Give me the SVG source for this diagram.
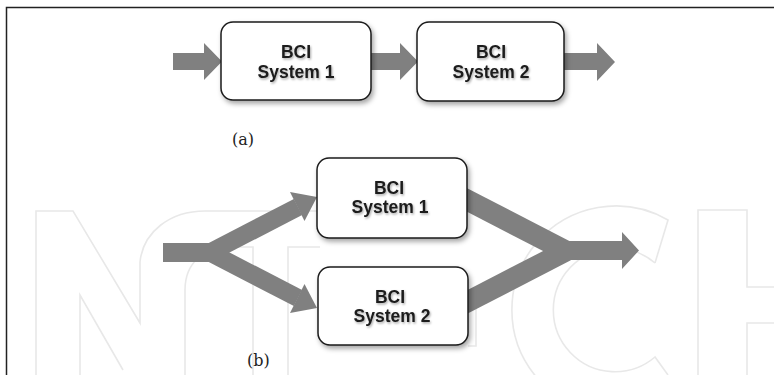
<svg xmlns="http://www.w3.org/2000/svg" width="774" height="375" viewBox="0 0 774 375">
<defs>
<filter id="sh" x="-10%" y="-10%" width="130%" height="140%">
<feDropShadow dx="2" dy="3" stdDeviation="2.5" flood-color="#000" flood-opacity="0.35"/>
</filter>
<filter id="tsh" x="-10%" y="-20%" width="130%" height="160%">
<feDropShadow dx="1" dy="1.5" stdDeviation="1" flood-color="#000" flood-opacity="0.35"/>
</filter>
</defs>
<style>
.box{fill:#fff;stroke:#1a1a1a;stroke-width:1.5;filter:url(#sh)}
.lbl{font-family:"Liberation Sans",Arial,sans-serif;font-weight:bold;font-size:17.5px;fill:#1a1a1a;text-anchor:middle;filter:url(#tsh)}
.cap{font-family:"DejaVu Serif","Liberation Serif",serif;font-size:16px;fill:#222}
.arr{fill:#808080}
.br{stroke:#808080;fill:none}
.frame{stroke:#222;stroke-width:1.5;fill:none}
.wm{stroke:#e8e8e8;stroke-width:1.6;fill:none}
</style>
<rect width="774" height="375" fill="#fff"/>
<g id="watermark">
<path class="wm" d="M36,375 V211 H73 L140,323 V262 C143,232 170,211 205,211 H330"/>
<path class="wm" d="M80,375 V295 L123,370"/>
<path class="wm" d="M185,375 V290 C185,262 205,247 230,247 H253 V375"/>
<path class="wm" d="M288,375 V247 H320"/>
<path class="wm" d="M468,298 H476 V346 H468"/>
<path class="wm" d="M655,263 L668,220 A104,104 0 1 0 668,400"/>
<path class="wm" d="M655,263 A61.7,61.7 0 1 0 655,357 L668,375"/>
<path class="wm" d="M698,375 V210 H747 V287 H774 M774,323 H747 V375"/>
</g>
<path class="frame" d="M6.5,375 V7.5 H774"/>
<g id="connectors">
<polygon class="arr" points="173,53 204,53 204,43 222,61.5 204,80 204,70 173,70"/>
<polygon class="arr" points="370,53 400,53 400,43 418,61.5 400,80 400,70 370,70"/>
<polygon class="arr" points="564,53 597,53 597,43 615,62 597,81 597,70 564,70"/>
<rect class="arr" x="163" y="243" width="55" height="19"/>
<line class="br" x1="210" y1="252.5" x2="298" y2="207" stroke-width="18"/>
<polygon class="arr" points="290,192 317,197 304.5,221"/>
<line class="br" x1="210" y1="252.5" x2="298" y2="298" stroke-width="18"/>
<polygon class="arr" points="290,313 317,308 304.5,284"/>
<line class="br" x1="440" y1="186" x2="566" y2="251" stroke-width="21"/>
<line class="br" x1="440" y1="316" x2="566" y2="251" stroke-width="21"/>
<polygon class="arr" points="560,241 622,241 622,232 639,250.5 622,269 622,260 560,260"/>
</g>
<g id="a-sys1">
<rect class="box" x="221" y="22" width="150" height="78" rx="12"/>
<text class="lbl" x="296" y="57.5">BCI</text>
<text class="lbl" x="296" y="78">System 1</text>
</g>
<g id="a-sys2">
<rect class="box" x="417" y="22" width="147" height="79" rx="12"/>
<text class="lbl" x="491" y="57.5">BCI</text>
<text class="lbl" x="491" y="78">System 2</text>
</g>
<g id="b-sys1">
<rect class="box" x="317" y="158" width="150" height="80" rx="12"/>
<text class="lbl" x="389" y="193.5">BCI</text>
<text class="lbl" x="390" y="213">System 1</text>
</g>
<g id="b-sys2">
<rect class="box" x="318" y="267" width="150" height="78" rx="12"/>
<text class="lbl" x="390" y="302.5">BCI</text>
<text class="lbl" x="392" y="322">System 2</text>
</g>
<text class="cap" x="232" y="145">(a)</text>
<text class="cap" x="247" y="366">(b)</text>
</svg>
